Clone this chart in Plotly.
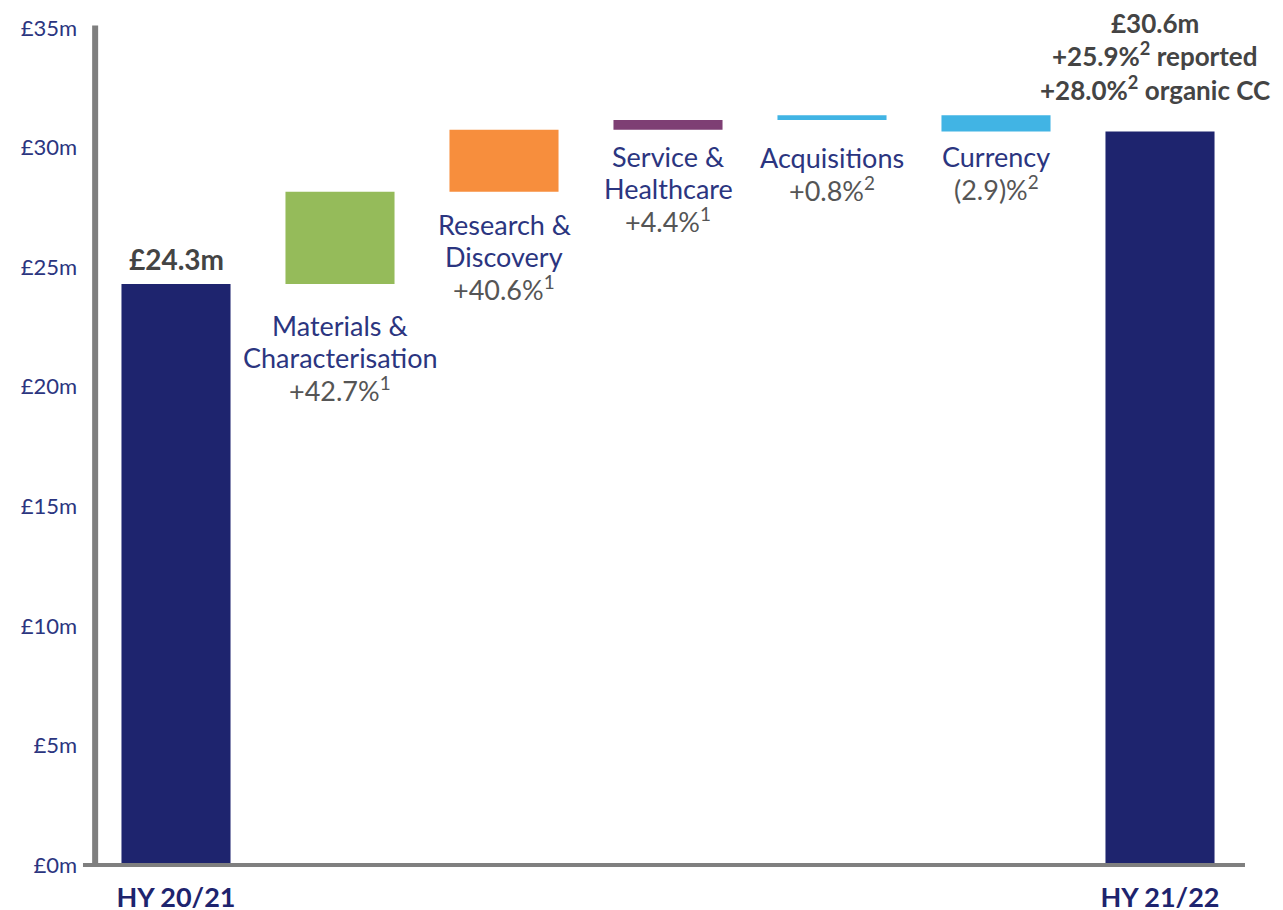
import plotly.graph_objects as go

# ---- data ----
categories = ["HY 20/21", "Materials & Characterisation", "Research & Discovery",
              "Service & Healthcare", "Acquisitions", "Currency", "HY 21/22"]
start_value = 24.3
changes = [3.85, 2.6, 0.4, 0.2, -0.68]
step_name_lines = [["Materials &", "Characterisation"], ["Research &", "Discovery"],
                   ["Service &", "Healthcare"], ["Acquisitions"], ["Currency"]]
step_growth = ["+42.7%", "+40.6%", "+4.4%", "+0.8%", "(2.9)%"]
step_notes = ["1", "1", "1", "2", "2"]
start_label = "£24.3m"
end_label = "£30.6m"
end_reported = "+25.9%"
end_organic = "+28.0%"
y_ticks = [0, 5, 10, 15, 20, 25, 30, 35]
y_ticktext = ["£0m", "£5m", "£10m", "£15m", "£20m", "£25m", "£30m", "£35m"]

# ---- styles ----
NAVY = "#1e246e"
TXT_NAVY = "#2b3580"
GREY_TXT = "#555555"
BOLD_GREY = "#444444"
AXIS = "#7f7f7f"
step_colors = ["#95bb5a", "#f78e3d", "#7e3f74", "#41b4e4", "#41b4e4"]
FONT = "Lato"
LABEL_SIZE = 27
PITCH = 31.5
first_line_offset = [42, 33, 27, 37, 25]  # px from bar bottom to first label line centre

# waterfall geometry
bases, heights = [0], [start_value]
level = start_value
for c in changes:
    if c >= 0:
        bases.append(level)
        heights.append(c)
    else:
        bases.append(level + c)
        heights.append(-c)
    level += c
end_value = level
bases.append(0)
heights.append(end_value)
colors = [NAVY] + step_colors + [NAVY]
xs = list(range(len(categories)))

fig = go.Figure()
fig.add_trace(go.Bar(x=xs, y=heights, base=bases, width=0.665,
                     marker=dict(color=colors, line=dict(width=0)),
                     hovertext=categories, hoverinfo="text"))

annotations = []
for i, (lines, g, n) in enumerate(zip(step_name_lines, step_growth, step_notes)):
    texts = [(t, TXT_NAVY) for t in lines] + [(f"{g}<sup>{n}</sup>", GREY_TXT)]
    for k, (t, col) in enumerate(texts):
        annotations.append(dict(
            x=i + 1, y=bases[i + 1], xref="x", yref="y", yanchor="middle",
            xanchor="center", yshift=-(first_line_offset[i] + k * PITCH),
            showarrow=False, text=t,
            font=dict(family=FONT, size=LABEL_SIZE, color=col)))

annotations.append(dict(
    x=0, y=start_value, xref="x", yref="y", yanchor="middle", yshift=25,
    showarrow=False, text=f"<b>{start_label}</b>",
    font=dict(family=FONT, size=28, color=BOLD_GREY)))

end_lines = [f"<b>{end_label}</b>",
             f"<b>{end_reported}<sup>2</sup> reported</b>",
             f"<b>{end_organic}<sup>2</sup> organic CC</b>"]
end_offsets = [109, 77, 43]
for t, off in zip(end_lines, end_offsets):
    annotations.append(dict(
        x=6, y=end_value, xref="x", yref="y", yanchor="middle", yshift=off,
        xshift=-5, showarrow=False, text=t,
        font=dict(family=FONT, size=26, color=BOLD_GREY)))

fig.update_layout(
    width=1275, height=902,
    margin=dict(l=86, r=41, t=20, b=45),
    paper_bgcolor="white", plot_bgcolor="white",
    showlegend=False,
    annotations=annotations,
    xaxis=dict(range=[-0.5, 6.5], tickvals=[0, 6],
               ticktext=[f"<b>{categories[0]}</b>", f"<b>{categories[-1]}</b>"],
               tickfont=dict(family=FONT, size=27, color=NAVY),
               showgrid=False, zeroline=False, showline=False, ticks="",
               ticklabelstandoff=14, automargin=False),
    yaxis=dict(range=[0, 35], tickvals=y_ticks, ticktext=y_ticktext,
               tickfont=dict(family=FONT, size=22, color=TXT_NAVY),
               showgrid=False, zeroline=False, showline=False, ticks="",
               ticklabelstandoff=16, automargin=False),
    shapes=[
        dict(type="line", xref="paper", yref="paper", x0=0.001, x1=0.001, y0=0, y1=1.003,
             line=dict(color=AXIS, width=6)),
        dict(type="line", xref="paper", yref="paper", x0=-0.0096, x1=1.0026, y0=0, y1=0,
             line=dict(color=AXIS, width=4)),
    ],
)

fig.write_html("out.html")
